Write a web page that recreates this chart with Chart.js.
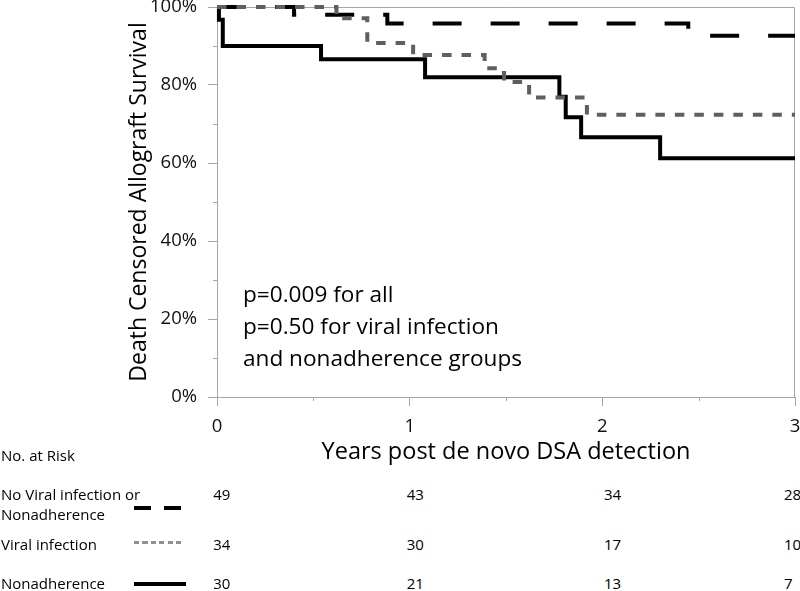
<!DOCTYPE html>
<html><head><meta charset="utf-8">
<script src="https://cdn.jsdelivr.net/npm/chart.js@4.4.1/dist/chart.umd.min.js"></script>
<style>
html,body{margin:0;padding:0;background:#fff;}
#wrap{position:relative;width:800px;height:591px;overflow:hidden;font-family:"Open Sans",sans-serif;color:#000;}
#c{position:absolute;left:0;top:0;}
.t{position:absolute;white-space:nowrap;}
.ln{position:absolute;}
</style></head><body>
<div id="wrap">
<canvas id="c" width="800" height="470"></canvas>
</div>
<script>
// ---- data ----
const noViralTime = [0, 0.40, 0.884, 2.446, 3];
const noViralSurv = [100, 98.0, 95.8, 92.6, 92.6];
const viralTime = [0, 0.62, 0.78, 1.018, 1.389, 1.49, 1.62, 1.92, 3];
const viralSurv = [100, 97.1, 90.8, 87.7, 84.3, 80.8, 76.8, 72.4, 72.4];
const nonadhTime = [0, 0.01, 0.03, 0.54, 1.08, 1.777, 1.81, 1.89, 2.30, 3];
const nonadhSurv = [100, 96.7, 90.0, 86.6, 82.0, 77.0, 71.7, 66.6, 61.2, 61.2];

const groupNames = [['No Viral infection or', 'Nonadherence'], ['Viral infection'], ['Nonadherence']];
const riskYears = [0, 1, 2, 3];
const atRiskNoViral = [49, 43, 34, 28];
const atRiskViral = [34, 30, 17, 10];
const atRiskNonadh = [30, 21, 13, 7];
const riskTitle = 'No. at Risk';
const pNotes = ['p=0.009 for all', 'p=0.50 for viral infection', 'and nonadherence groups'];
const xTitle = 'Years post de novo DSA detection';
const yTitle = 'Death Censored Allograft Survival';
const minorX = [0.5, 1.5, 2.5];
const minorY = [10, 30, 50, 70, 90];

// ---- style ----
const FONT = '"Open Sans", sans-serif';
const axisGray = '#a6a6a6';
const toPts = (xs, ys) => xs.map((x, i) => ({x, y: ys[i]}));

const framePlugin = {
  id: 'frame',
  beforeDatasetsDraw(chart) {
    const {ctx, chartArea: a, scales: {x, y}} = chart;
    ctx.save();
    ctx.strokeStyle = axisGray; ctx.lineWidth = 1;
    ctx.beginPath();
    ctx.moveTo(a.left, a.top + 0.5); ctx.lineTo(a.right - 0.5, a.top + 0.5); ctx.lineTo(a.right - 0.5, a.bottom);
    minorY.forEach(v => { const py = Math.round(y.getPixelForValue(v)) + 0.5; ctx.moveTo(a.left - 4, py); ctx.lineTo(a.left, py); });
    minorX.forEach(v => { const px = Math.round(x.getPixelForValue(v)) + 0.5; ctx.moveTo(px, a.bottom); ctx.lineTo(px, a.bottom + 4); });
    ctx.stroke();
    ctx.restore();
  }
};

const chart = new Chart(document.getElementById('c'), {
  type: 'line',
  data: {
    datasets: [
      {label: 'Viral infection', data: toPts(viralTime, viralSurv), borderColor: '#5f5f5f', borderWidth: 4, borderDash: [9.5, 10], stepped: true, pointRadius: 0, fill: false, clip: false, order: 0},
      {label: 'Nonadherence', data: toPts(nonadhTime, nonadhSurv), borderColor: '#000', borderWidth: 4, stepped: true, pointRadius: 0, fill: false, clip: false, order: 1},
      {label: 'No Viral infection or Nonadherence', data: toPts(noViralTime, noViralSurv), borderColor: '#000', borderWidth: 4, borderDash: [29, 29], stepped: true, pointRadius: 0, fill: false, clip: false, order: 2}
    ]
  },
  options: {
    responsive: false, animation: false, devicePixelRatio: 1,
    layout: {padding: {top: 7, right: 5, left: 0, bottom: 0}},
    plugins: {legend: {display: false}, tooltip: {enabled: false}},
    scales: {
      x: {
        type: 'linear', min: 0, max: 3,
        ticks: {stepSize: 1, color: '#111', font: {family: FONT, size: 18.5}, padding: 10, maxRotation: 0},
        grid: {drawOnChartArea: false, drawTicks: true, tickLength: 9, color: axisGray},
        border: {color: axisGray, width: 1},
        title: {display: true, text: xTitle, color: '#000', font: {family: FONT, size: 23.5}, padding: {top: 0, bottom: 3.3}},
        afterFit(s) { s.height = 73; s.paddingLeft = 0; s.paddingRight = 0; }
      },
      y: {
        min: 0, max: 100,
        ticks: {stepSize: 20, color: '#111', font: {family: FONT, size: 18.5}, padding: 11, callback: v => v + '%'},
        grid: {drawOnChartArea: false, drawTicks: true, tickLength: 9, color: axisGray},
        border: {color: axisGray, width: 1},
        title: {display: true, text: yTitle, color: '#000', font: {family: FONT, size: 23}, padding: {top: 125.6, bottom: 0}},
        afterFit(s) { s.width = 217; s.paddingTop = 0; s.paddingBottom = 0; }
      }
    }
  },
  plugins: [framePlugin]
});

// ---- HTML text: annotation and at-risk table ----
const wrap = document.getElementById('wrap');
function addText(txt, left, baseline, size) {
  const d = document.createElement('div');
  d.className = 't';
  d.textContent = txt;
  d.style.fontSize = size + 'px';
  d.style.lineHeight = size + 'px';
  d.style.left = left + 'px';
  d.style.top = (baseline - 0.888 * size) + 'px';
  wrap.appendChild(d);
}
function addLine(left, top, width, height, bg) {
  const d = document.createElement('div');
  d.className = 'ln';
  Object.assign(d.style, {left: left + 'px', top: top + 'px', width: width + 'px', height: height + 'px', background: bg});
  wrap.appendChild(d);
}
const noteBase = [303.3, 335, 366.7];
pNotes.forEach((t, i) => addText(t, 243, noteBase[i], 22.6));

addText(riskTitle, 1, 461.5, 15);
const rowBase = [500.7, 550.7, 589.3];
const rowData = [atRiskNoViral, atRiskViral, atRiskNonadh];
const colLeft = [213.3, 406.7, 604, 784];
groupNames.forEach((lines, r) => lines.forEach((t, k) => addText(t, 1, rowBase[r] + k * 19.3, 15)));
rowData.forEach((vals, r) => vals.forEach((v, c) => addText(String(v), colLeft[c], rowBase[r], 15)));
// legend samples
addLine(134.3, 505.7, 47.4, 4, 'repeating-linear-gradient(to right,#000 0 17.4px,transparent 17.4px 30px)');
addLine(134.3, 540.6, 47.4, 3.4, 'repeating-linear-gradient(to right,#909090 0 5.2px,transparent 5.2px 8.4px)');
addLine(134.3, 581.8, 51.4, 4.4, '#000');
</script>
</body></html>
